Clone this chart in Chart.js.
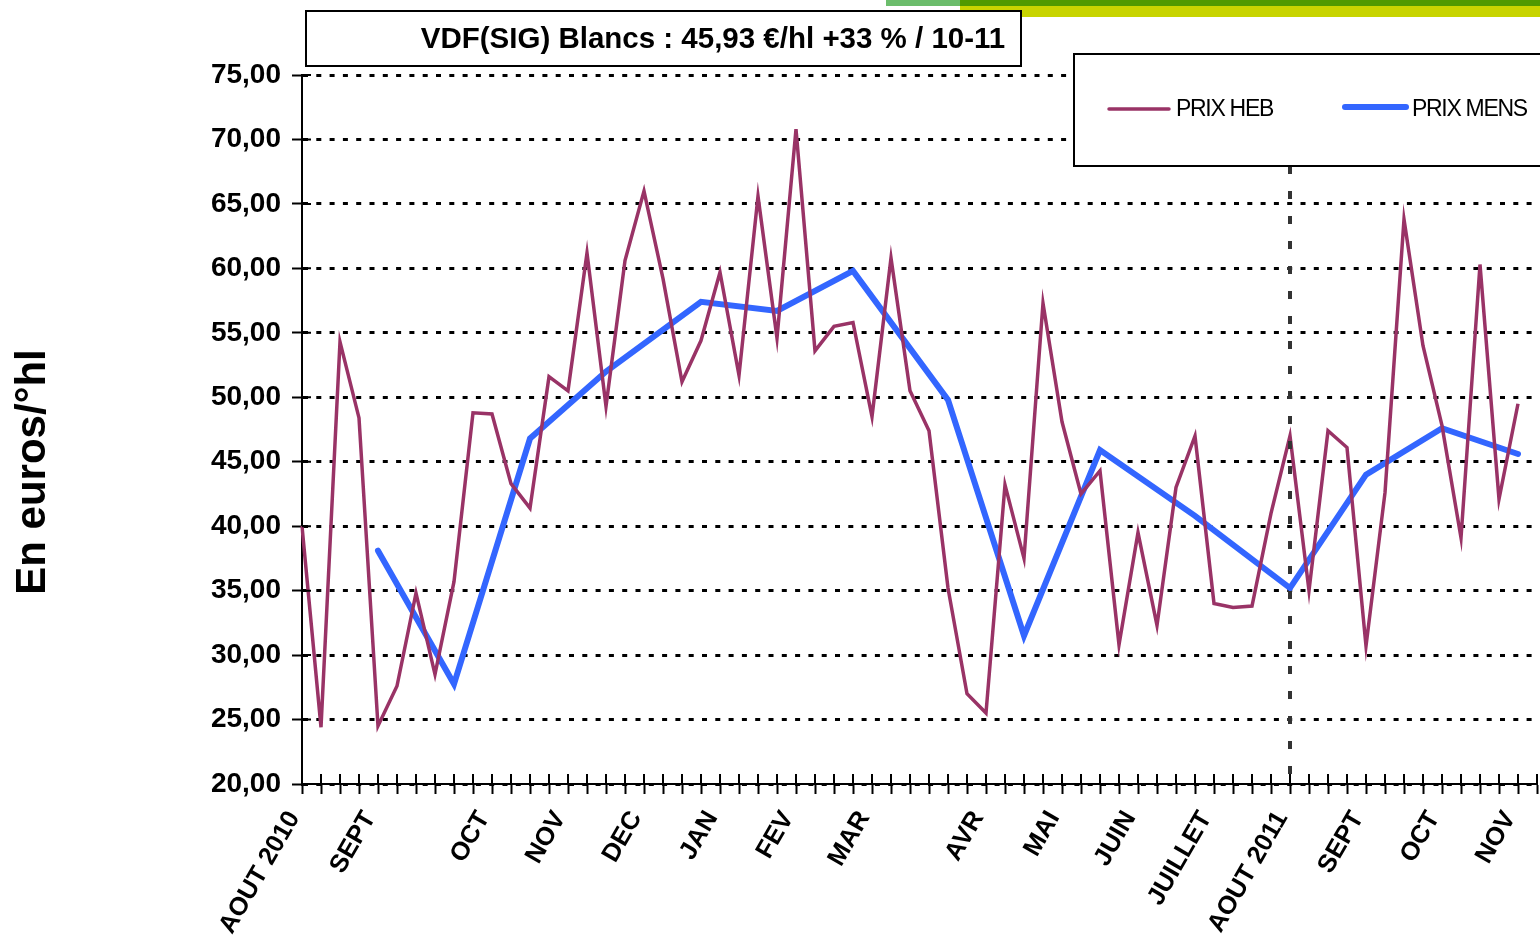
<!DOCTYPE html>
<html>
<head>
<meta charset="utf-8">
<title>VDF(SIG) Blancs</title>
<script src="https://cdn.jsdelivr.net/npm/chart.js@4.4.1/dist/chart.umd.min.js"></script>
<style>
  html, body { margin: 0; padding: 0; background: #fff; }
  #wrap { position: relative; width: 1540px; height: 939px; }
</style>
</head>
<body>
<div id="wrap"><canvas id="prixChart"></canvas></div>
<script>
// ---- data (weekly, Aug 2010 -> Nov 2011) ----
const monthLabels = ['AOUT 2010', 'SEPT', 'OCT', 'NOV', 'DEC', 'JAN', 'FEV', 'MAR',
                     'AVR', 'MAI', 'JUIN', 'JUILLET', 'AOUT 2011', 'SEPT', 'OCT', 'NOV'];
const monthWeek = [0, 4, 10, 14, 18, 22, 26, 30, 36, 40, 44, 48, 52, 56, 60, 64];
const weekCount = 66;

// PRIX HEB (weekly price, €/hl)
const hebValues = [
  40.0, 24.4, 54.3, 48.4, 24.5, 27.6, 34.8, 28.5, 35.7, 48.8,
  48.7, 43.3, 41.4, 51.6, 50.5, 61.2, 49.3, 60.6, 66.0, 59.2,
  51.2, 54.4, 59.7, 51.7, 65.6, 54.6, 70.8, 53.6, 55.5, 55.8,
  48.5, 60.8, 50.5, 47.4, 35.2, 27.0, 25.5, 43.2, 37.5, 57.3,
  48.1, 42.5, 44.3, 30.8, 39.5, 32.3, 43.0, 47.0, 34.0, 33.7,
  33.8, 41.0, 47.0, 35.0, 47.4, 46.1, 30.7, 42.6, 63.8, 54.0,
  47.8, 39.1, 60.3, 42.1, 49.5
];

// PRIX MENS (monthly price) and the week each one sits on
const mensWeek = [4, 8, 12, 16, 21, 25, 29, 34, 38, 42, 47, 52, 56, 60, 64];
const mensValues = [38.1, 27.75, 46.8, 52.0, 57.4, 56.7, 59.8, 49.8, 31.5, 45.9, 40.8, 35.2, 44.0, 47.6, 45.6];

const splitWeek = 52; // AOUT 2011 marker

const weekLabels = [];
for (let i = 0; i < weekCount; i++) {
    const m = monthWeek.indexOf(i);
    weekLabels.push(m >= 0 ? monthLabels[m] : '');
}
const hebData = weekLabels.map((_, i) => (i < hebValues.length ? hebValues[i] : null));
const mensData = weekLabels.map(() => null);
mensWeek.forEach((w, i) => { mensData[w] = mensValues[i]; });

const FONT = "'Liberation Sans', Arial, sans-serif";
const HEB_COLOR = '#993366';
const MENS_COLOR = '#3366FF';

// ---- extra drawing: banner, crossing ticks, marker line, title box, legend ----
const decorPlugin = {
    id: 'decor',
    beforeDraw(chart) {
        const ctx = chart.ctx;
        ctx.save();
        ctx.fillStyle = '#fff';
        ctx.fillRect(0, 0, chart.width, chart.height);
        ctx.fillStyle = '#6cbd6c';
        ctx.fillRect(886, 0, 74, 6);
        ctx.fillStyle = '#4f9a00';
        ctx.fillRect(960, 0, 580, 6);
        ctx.fillStyle = '#c8d400';
        ctx.fillRect(960, 6, 580, 11);
        ctx.restore();
    },
    afterDatasetsDraw(chart) {
        const { ctx, chartArea, scales } = chart;
        const x = scales.x, y = scales.y;
        ctx.save();

        // inner half of the crossing tick marks
        ctx.strokeStyle = '#000';
        ctx.lineWidth = 2;
        ctx.beginPath();
        for (let i = 0; i < x.ticks.length; i++) {
            const px = x.getPixelForTick(i);
            ctx.moveTo(px, chartArea.bottom);
            ctx.lineTo(px, chartArea.bottom - 10);
        }
        for (let i = 0; i < y.ticks.length; i++) {
            const py = y.getPixelForTick(i);
            ctx.moveTo(chartArea.left, py);
            ctx.lineTo(chartArea.left + 9, py);
        }
        ctx.stroke();

        // dashed marker at AOUT 2011
        const sx = x.getPixelForValue(splitWeek);
        ctx.strokeStyle = '#333';
        ctx.lineWidth = 4;
        ctx.setLineDash([8, 17]);
        ctx.lineDashOffset = 9;
        ctx.beginPath();
        ctx.moveTo(sx, chartArea.top);
        ctx.lineTo(sx, chartArea.bottom);
        ctx.stroke();
        ctx.restore();
    },
    afterDraw(chart) {
        const ctx = chart.ctx;
        ctx.save();

        // y axis title
        ctx.fillStyle = '#000';
        ctx.font = 'bold 42px ' + FONT;
        ctx.textAlign = 'center';
        ctx.textBaseline = 'middle';
        ctx.translate(33, 472);
        ctx.rotate(-Math.PI / 2);
        ctx.fillText('En euros/°hl', 0, 0);
        ctx.setTransform(1, 0, 0, 1, 0, 0);

        // title box
        ctx.fillStyle = '#fff';
        ctx.fillRect(306, 11, 715, 55);
        ctx.strokeStyle = '#000';
        ctx.lineWidth = 2;
        ctx.strokeRect(306, 11, 715, 55);
        ctx.fillStyle = '#000';
        ctx.font = 'bold 29.5px ' + FONT;
        ctx.textAlign = 'center';
        ctx.fillText('VDF(SIG) Blancs : 45,93 €/hl +33 % / 10-11', 713, 40);

        // legend box
        ctx.fillStyle = '#fff';
        ctx.fillRect(1074, 54, 480, 112);
        ctx.strokeRect(1074, 54, 480, 112);
        const ds = chart.data.datasets;
        ctx.lineCap = 'round';
        ctx.strokeStyle = ds[0].borderColor;
        ctx.lineWidth = 3.5;
        ctx.beginPath();
        ctx.moveTo(1109, 109);
        ctx.lineTo(1169, 109);
        ctx.stroke();
        ctx.strokeStyle = ds[1].borderColor;
        ctx.lineWidth = 6;
        ctx.beginPath();
        ctx.moveTo(1345, 107);
        ctx.lineTo(1406, 107);
        ctx.stroke();
        ctx.fillStyle = '#000';
        ctx.font = '23px ' + FONT;
        ctx.letterSpacing = '-1.3px';
        ctx.textAlign = 'left';
        ctx.fillText(ds[0].label, 1176, 110);
        ctx.fillText(ds[1].label, 1412, 110);
        ctx.restore();
    }
};

new Chart(document.getElementById('prixChart'), {
    type: 'line',
    data: {
        labels: weekLabels,
        datasets: [
            {
                label: 'PRIX HEB',
                data: hebData,
                borderColor: HEB_COLOR,
                borderWidth: 3.5,
                pointRadius: 0,
                tension: 0,
                fill: false
            },
            {
                label: 'PRIX MENS',
                data: mensData,
                borderColor: MENS_COLOR,
                borderWidth: 6,
                borderCapStyle: 'round',
                pointRadius: 0,
                tension: 0,
                spanGaps: true,
                fill: false
            }
        ]
    },
    options: {
        responsive: true,
        maintainAspectRatio: false,
        animation: false,
        layout: { padding: { top: 75, right: 3, left: 0, bottom: 0 } },
        plugins: {
            legend: { display: false },
            tooltip: { enabled: false }
        },
        scales: {
            x: {
                type: 'category',
                offset: false,
                grid: {
                    display: true,
                    drawOnChartArea: false,
                    drawTicks: true,
                    tickLength: 10,
                    tickWidth: 2,
                    tickColor: '#000'
                },
                border: { display: true, color: '#000', width: 2 },
                ticks: {
                    autoSkip: false,
                    minRotation: 60,
                    maxRotation: 60,
                    padding: 12,
                    labelOffset: -8,
                    color: '#000',
                    font: { family: FONT, size: 25.5, weight: 'bold' }
                },
                afterFit(scale) {
                    scale.height = 155;
                    scale.paddingLeft = 0;
                    scale.paddingRight = 0;
                }
            },
            y: {
                min: 20,
                max: 75,
                grid: {
                    color: '#000',
                    lineWidth: 3,
                    drawTicks: true,
                    tickLength: 10,
                    tickWidth: 2,
                    tickColor: '#000'
                },
                border: { display: true, color: '#000', width: 2, dash: [5, 8.3] },
                ticks: {
                    stepSize: 5,
                    padding: 11,
                    color: '#000',
                    font: { family: FONT, size: 28, weight: 'bold' },
                    callback: function(value) {
                        return value.toFixed(2).replace('.', ',');
                    }
                },
                afterFit(scale) {
                    scale.width = 302;
                }
            }
        }
    },
    plugins: [decorPlugin]
});
</script>
</body>
</html>
